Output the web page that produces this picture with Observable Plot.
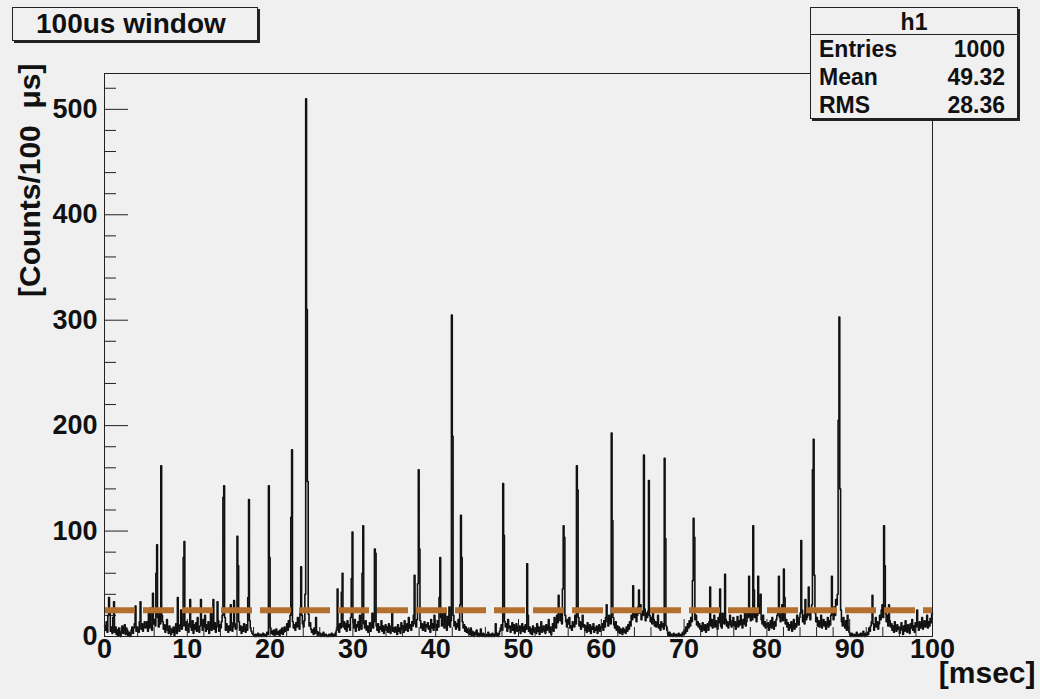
<!DOCTYPE html>
<html><head><meta charset="utf-8">
<script src="https://cdn.jsdelivr.net/npm/d3@7"></script>
<script src="https://cdn.jsdelivr.net/npm/@observablehq/plot@0.6"></script>
<style>
html,body{margin:0;padding:0;background:#f0f0f0;}
#wrap{position:relative;width:1040px;height:699px;font-family:"Liberation Sans",Arial,Helvetica,sans-serif;font-weight:bold;color:#111;}
#wrap svg{position:absolute;left:0;top:0;}
.box{position:absolute;background:#f0f0f0;border:1px solid #222;box-shadow:2px 2px 0 #222;box-sizing:border-box;}
#title{left:12px;top:7px;width:246px;height:34px;font-size:28px;line-height:32px;padding-left:23px;}
#stats{left:810px;top:7px;width:208px;height:112px;font-size:23px;}
#stats .hd{height:26px;line-height:28px;text-align:center;border-bottom:1px solid #222;}
#stats .row{display:flex;justify-content:space-between;height:28px;line-height:29px;padding:0 12px 0 8px;}
</style></head><body><div id="wrap"></div>
<script>
// ---- data: histogram h1, 1000 bins of 0.1 ms over 0..100 ms (counts per 100 us) ----
const binWidth = 0.1;
const bins0to5   = [10,6,14,4,20,37,25,5,9,3, 18,33,4,9,2,6,1,8,3,0, 5,10,3,7,11,2,8,6,1,4, 2,0,6,9,3,8,12,29,5,9, 6,4,14,33,7,12,5,9,14,8];
const bins5to10  = [9,14,5,22,8,27,11,6,41,12, 16,10,60,87,18,9,25,12,162,20, 14,7,11,4,9,16,6,3,10,5, 2,7,4,9,1,6,12,3,37,8, 5,11,25,7,10,75,90,10,6,14];
const bins10to15 = [8,4,12,35,9,6,15,3,11,7, 13,5,18,9,4,10,35,12,6,16, 9,20,5,11,7,14,3,8,22,6, 10,35,7,13,4,9,33,15,5,11, 8,14,20,132,143,18,6,12,9,4];
const bins15to20 = [10,6,30,13,5,9,34,12,7,8, 95,67,14,6,10,3,9,5,12,7, 4,11,6,37,130,15,8,5,3,2, 1,0,2,0,1,3,0,1,2,0, 1,3,0,2,1,0,4,2,143,75];
const bins20to25 = [8,3,5,2,6,1,4,7,2,3, 5,1,6,3,8,2,4,9,5,7, 12,6,15,9,20,113,177,14,8,11, 6,13,9,18,10,7,22,66,20,12, 9,15,40,510,310,147,21,10,13,7];
const bins25to30 = [4,6,2,8,3,18,5,1,4,2, 3,0,2,1,4,0,1,2,0,1, 0,2,1,0,3,1,0,2,1,4, 6,45,10,4,12,8,42,60,9,14, 7,12,5,15,9,11,6,18,55,99];
const bins30to35 = [13,8,16,5,11,9,14,6,20,10, 7,60,105,12,8,15,6,10,4,9, 13,5,11,22,8,14,83,79,10,6, 12,4,9,7,15,5,10,3,8,11, 6,9,4,12,7,3,10,22,5,8];
const bins35to40 = [4,9,6,2,11,5,8,3,13,7, 10,4,15,6,9,12,5,18,8,11, 6,14,10,20,58,12,9,16,50,158, 83,15,8,12,6,10,14,5,11,9, 13,7,10,4,16,8,12,6,20,9];
const bins40to45 = [11,6,15,9,37,75,18,10,22,12, 8,25,14,6,19,11,28,9,15,305, 190,20,10,14,7,12,9,16,6,30, 115,75,14,8,11,5,9,4,7,3, 6,2,8,1,5,3,0,4,2,6];
const bins45to50 = [1,3,0,2,7,1,0,3,1,0, 2,0,1,4,0,2,1,0,3,1, 0,2,12,1,3,0,2,5,8,11, 6,145,96,14,9,12,5,16,8,10, 4,9,13,6,11,3,8,12,5,9];
const bins50to55 = [6,10,3,8,12,5,9,4,11,7, 69,20,5,9,3,7,2,10,6,4, 8,3,12,5,9,2,6,14,4,7, 10,5,3,11,6,8,16,4,9,2, 7,12,5,18,10,8,20,13,39,25];
const bins55to60 = [15,22,12,45,105,94,20,14,9,16, 12,18,8,10,6,14,11,9,20,12, 162,139,18,10,14,7,12,20,9,11, 6,10,4,13,8,5,11,3,9,7, 12,4,8,6,10,3,7,11,5,9];
const bins60to65 = [8,12,6,15,9,18,30,14,10,20, 16,12,193,110,18,11,8,14,6,10, 4,9,3,7,5,2,8,4,6,3, 9,5,11,7,14,10,20,16,48,22, 18,25,14,20,28,44,22,30,16,24];
const bins65to70 = [20,172,26,15,22,18,24,148,20,14, 18,12,22,16,10,14,9,12,20,8, 11,6,14,9,12,7,169,93,10,6, 3,1,4,0,2,1,0,3,1,0, 2,0,1,3,0,1,2,0,4,2];
const bins70to75 = [6,3,9,5,12,8,15,10,18,14, 53,112,94,16,20,11,14,9,12,7, 10,5,13,8,6,11,4,9,12,6, 14,47,10,16,8,12,20,9,15,11, 7,18,13,45,10,8,22,14,12,59];
const bins75to80 = [16,10,14,8,12,20,11,9,15,18, 10,14,7,12,19,9,15,11,20,13, 8,16,12,22,10,14,25,18,57,20, 15,22,16,105,44,18,25,14,20,57, 22,30,40,16,12,20,10,14,8,12];
const bins80to85 = [9,13,6,11,15,8,18,12,7,14, 10,16,20,25,57,18,14,22,30,15, 64,37,12,16,9,13,6,11,8,14, 5,10,16,7,12,9,20,14,11,18, 22,91,25,14,20,12,35,16,18,24];
const bins85to90 = [47,20,16,25,30,158,187,58,22,14, 18,10,15,9,13,20,8,12,16,10, 14,7,12,18,9,15,11,20,57,24, 16,28,20,35,30,40,205,303,140,25, 14,10,18,12,8,15,6,20,9,4];
const bins90to95 = [2,0,3,1,0,2,1,0,4,1, 0,2,1,3,0,1,5,2,0,3, 1,4,2,8,5,10,14,39,12,6, 11,18,9,14,7,12,20,16,25,30, 18,105,67,22,14,20,10,30,15,9];
const bins95to100= [12,6,10,4,14,8,5,11,7,9, 3,8,13,6,2,10,5,15,9,4, 11,7,3,12,8,16,6,10,4,13, 9,25,12,6,14,8,11,18,7,10, 15,9,12,20,8,14,10,17,13,22];

const threshold = 25;                       // dashed reference level
const yMajor = [0, 100, 200, 300, 400, 500];
const yMinor = [20,40,60,80,120,140,160,180,220,240,260,280,320,340,360,380,420,440,460,480,520];
const xMajor = [0, 10, 20, 30, 40, 50, 60, 70, 80, 90, 100];
const xMinor = [2,4,6,8,12,14,16,18,22,24,26,28,32,34,36,38,42,44,46,48,52,54,56,58,62,64,66,68,72,74,76,78,82,84,86,88,92,94,96,98];
const titleText = "100us window";
const statsName = "h1";
const statsRows = [["Entries", "1000"], ["Mean", "49.32"], ["RMS", "28.36"]];
const yTitle = "[Counts/100  μs]";
const xTitle = "[msec]";

// ---- build ----
const counts = [bins0to5,bins5to10,bins10to15,bins15to20,bins20to25,bins25to30,bins30to35,bins35to40,bins40to45,bins45to50,
  bins50to55,bins55to60,bins60to65,bins65to70,bins70to75,bins75to80,bins80to85,bins85to90,bins90to95,bins95to100].flat();
const hist = counts.map((n, i) => ({t: i * binWidth, n}));
hist.push({t: counts.length * binWidth, n: counts[counts.length - 1]});

const W = 1040, H = 699, mL = 104, mR = 108, mT = 73, mB = 63;
const iw = W - mL - mR, ih = H - mT - mB;
const font = "'Liberation Sans', Arial, Helvetica, sans-serif";

const chart = Plot.plot({
  width: W, height: H,
  marginLeft: mL, marginRight: mR, marginTop: mT, marginBottom: mB,
  style: {background: "#f0f0f0", fontFamily: font, fontWeight: "bold", color: "#111"},
  x: {domain: [0, 100]},
  y: {domain: [0, 534]},
  marks: [
    Plot.lineY(hist, {x: "t", y: "n", curve: "step-after", stroke: "#111", strokeWidth: 1.6}),
    Plot.ruleY([threshold], {stroke: "#b26f2e", strokeWidth: 6, strokeDasharray: "31,8"}),
    Plot.tickY(yMinor, {y: d => d, insetRight: iw - 12, stroke: "#222"}),
    Plot.tickY(yMajor, {y: d => d, insetRight: iw - 24, stroke: "#222"}),
    Plot.tickX(xMinor, {x: d => d, insetTop: ih - 9, stroke: "#222"}),
    Plot.tickX(xMajor, {x: d => d, insetTop: ih - 17, stroke: "#222"}),
    Plot.axisY({ticks: yMajor, tickSize: 0, tickPadding: 7, fontSize: 27, label: null}),
    Plot.axisX({ticks: xMajor, tickSize: 0, tickPadding: 2, fontSize: 27, label: null}),
    Plot.frame({stroke: "#222"}),
    Plot.text([yTitle], {frameAnchor: "top-left", rotate: -90, textAnchor: "end", dx: -86, dy: -10, fontSize: 30, fill: "#111"}),
    Plot.text([xTitle], {frameAnchor: "bottom-right", textAnchor: "end", dx: 103, dy: 46, fontSize: 30, fill: "#111"})
  ]
});
const wrap = document.getElementById("wrap");
wrap.appendChild(chart);

const tb = document.createElement("div");
tb.className = "box"; tb.id = "title"; tb.textContent = titleText;
wrap.appendChild(tb);

const sb = document.createElement("div");
sb.className = "box"; sb.id = "stats";
const hd = document.createElement("div"); hd.className = "hd"; hd.textContent = statsName; sb.appendChild(hd);
for (const [k, v] of statsRows) {
  const r = document.createElement("div"); r.className = "row";
  const a = document.createElement("span"); a.textContent = k;
  const b = document.createElement("span"); b.textContent = v;
  r.appendChild(a); r.appendChild(b); sb.appendChild(r);
}
wrap.appendChild(sb);
</script></body></html>
